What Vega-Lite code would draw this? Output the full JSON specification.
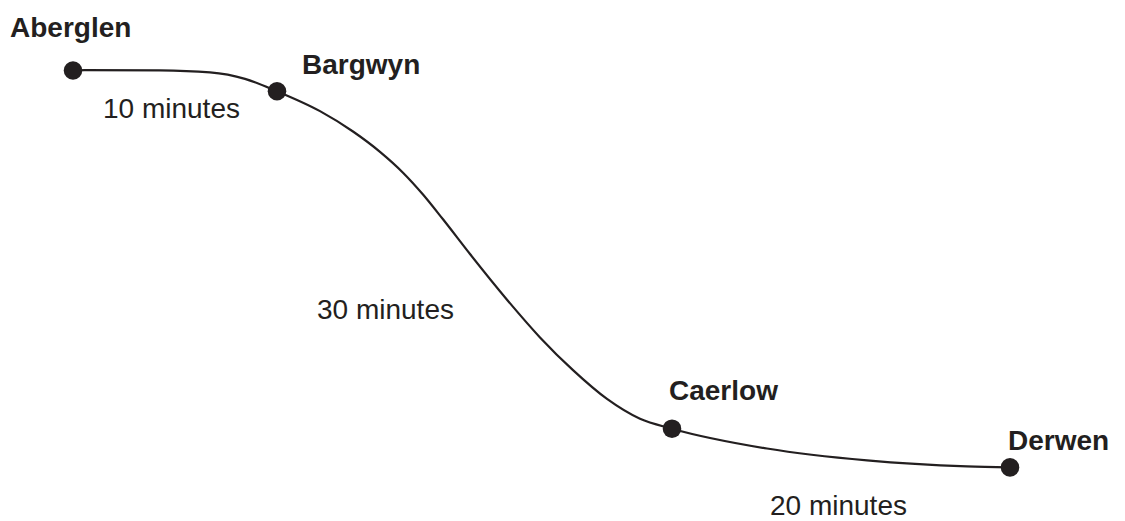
{
  "$schema": "https://vega.github.io/schema/vega-lite/v6.json",
  "width": 1125,
  "height": 521,
  "padding": 0,
  "autosize": {"type": "fit", "contains": "padding"},
  "background": "white",
  "config": {"view": {"stroke": null}},
  "datasets": {
    "route": [
      {"px": 73, "py": 71},
      {"px": 85, "py": 70.6},
      {"px": 160, "py": 70.9},
      {"px": 210, "py": 73},
      {"px": 245, "py": 79.5},
      {"px": 277, "py": 92},
      {"px": 320, "py": 112},
      {"px": 353, "py": 132.5},
      {"px": 380, "py": 153},
      {"px": 403, "py": 174},
      {"px": 423, "py": 196},
      {"px": 443, "py": 221},
      {"px": 470, "py": 256},
      {"px": 507, "py": 302},
      {"px": 540, "py": 340},
      {"px": 573, "py": 373},
      {"px": 607, "py": 402},
      {"px": 640, "py": 422},
      {"px": 672, "py": 432},
      {"px": 767, "py": 452},
      {"px": 867, "py": 464},
      {"px": 967, "py": 470},
      {"px": 1010, "py": 471}
    ],
    "stops": [
      {"name": "Aberglen", "px": 73, "py": 71},
      {"name": "Bargwyn", "px": 277, "py": 92},
      {"name": "Caerlow", "px": 672, "py": 432},
      {"name": "Derwen", "px": 1010, "py": 471}
    ],
    "labels": [
      {"text": "Aberglen", "px": 10, "py": 37, "kind": "place"},
      {"text": "Bargwyn", "px": 302, "py": 75, "kind": "place"},
      {"text": "Caerlow", "px": 669, "py": 403, "kind": "place"},
      {"text": "Derwen", "px": 1008, "py": 453, "kind": "place"},
      {"text": "10 minutes", "px": 103, "py": 119, "kind": "time"},
      {"text": "30 minutes", "px": 317, "py": 321, "kind": "time"},
      {"text": "20 minutes", "px": 770, "py": 519, "kind": "time"}
    ]
  },
  "layer": [
    {
      "data": {"name": "route"},
      "mark": {"type": "line", "interpolate": "monotone", "color": "#231f20", "strokeWidth": 2.2},
      "encoding": {
        "x": {"field": "px", "type": "quantitative", "scale": {"domain": [0, 1125]}, "axis": null},
        "y": {"field": "py", "type": "quantitative", "scale": {"domain": [0, 521], "reverse": true}, "axis": null}
      }
    },
    {
      "data": {"name": "stops"},
      "mark": {"type": "point", "filled": true, "opacity": 1, "size": 345, "color": "#231f20"},
      "encoding": {
        "x": {"field": "px", "type": "quantitative", "scale": {"domain": [0, 1125]}, "axis": null},
        "y": {"field": "py", "type": "quantitative", "scale": {"domain": [0, 521], "reverse": true}, "axis": null}
      }
    },
    {
      "data": {"name": "labels"},
      "transform": [{"filter": "datum.kind === 'place'"}],
      "mark": {"type": "text", "align": "left", "baseline": "alphabetic", "font": "Liberation Sans", "fontWeight": "bold", "fontSize": 28, "color": "#231f20"},
      "encoding": {
        "x": {"field": "px", "type": "quantitative", "scale": {"domain": [0, 1125]}, "axis": null},
        "y": {"field": "py", "type": "quantitative", "scale": {"domain": [0, 521], "reverse": true}, "axis": null},
        "text": {"field": "text"}
      }
    },
    {
      "data": {"name": "labels"},
      "transform": [{"filter": "datum.kind === 'time'"}],
      "mark": {"type": "text", "align": "left", "baseline": "alphabetic", "font": "Liberation Sans", "fontSize": 28, "color": "#231f20"},
      "encoding": {
        "x": {"field": "px", "type": "quantitative", "scale": {"domain": [0, 1125]}, "axis": null},
        "y": {"field": "py", "type": "quantitative", "scale": {"domain": [0, 521], "reverse": true}, "axis": null},
        "text": {"field": "text"}
      }
    }
  ]
}
